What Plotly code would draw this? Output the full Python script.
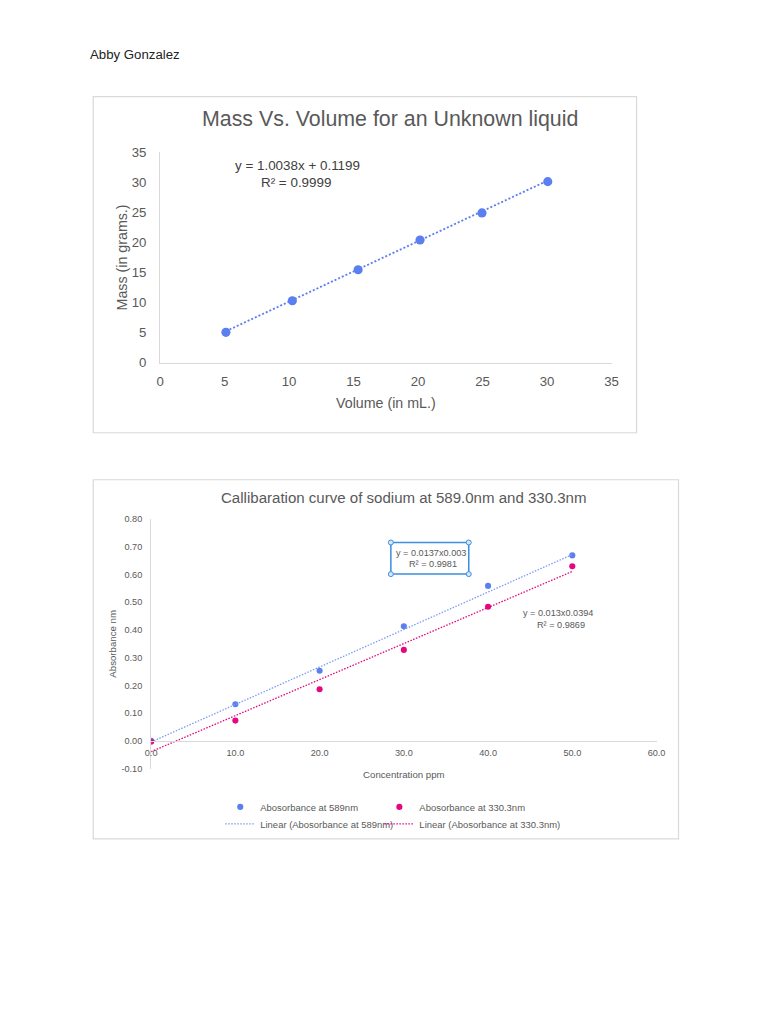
import plotly.graph_objects as go

# Mass vs volume (top chart)
volume = [5.1, 10.25, 15.35, 20.15, 24.95, 30.05]
mass = [5.05, 10.3, 15.45, 20.4, 24.9, 30.1]
mass_trend_x = [5.1, 30.05]
mass_trend_y = [5.24, 30.28]

# Calibration curve (bottom chart)
conc = [0, 10, 20, 30, 40, 50]
abs_589 = [0.0, 0.132, 0.253, 0.413, 0.559, 0.669]
abs_330 = [-0.003, 0.073, 0.186, 0.328, 0.484, 0.630]
trend_x = [0, 50]
trend_589 = [-0.004, 0.672]
trend_330 = [-0.039, 0.611]

abs_ticks = [-0.1, 0.0, 0.1, 0.2, 0.3, 0.4, 0.5, 0.6, 0.7, 0.8]
abs_labels = ["-0.10", "0.00", "0.10", "0.20", "0.30", "0.40", "0.50", "0.60", "0.70", "0.80"]

W, H = 768, 1024
FONT = "Liberation Sans, Arial, sans-serif"
GREY = "#595959"
BLUE = "#5b7ef0"
PINK = "#e5077f"

# the page gets shrunk a little when photographed, so undo that here
SX, OX = 0.9816, 5.7
SY, OY = 0.985, 6.4
K = 1 / 0.983


def px(x):
    return (x - OX) / SX / W


def py(y):
    return 1 - (y - OY) / SY / H


def fs(size):
    return size * K


fig = go.Figure()

# top chart
fig.add_trace(go.Scatter(
    x=mass_trend_x, y=mass_trend_y, mode="lines",
    line=dict(color=BLUE, width=fs(1.8), dash="2px,2px"),
    xaxis="x", yaxis="y", showlegend=False, hoverinfo="skip"))
fig.add_trace(go.Scatter(
    x=volume, y=mass, mode="markers",
    marker=dict(color=BLUE, size=fs(9)),
    xaxis="x", yaxis="y", showlegend=False))

# bottom chart
fig.add_trace(go.Scatter(
    x=conc, y=abs_589, mode="markers", name="Abosorbance at 589nm",
    marker=dict(color=BLUE, size=fs(6)),
    xaxis="x2", yaxis="y2", legend="legend"))
fig.add_trace(go.Scatter(
    x=conc, y=abs_330, mode="markers", name="Abosorbance at 330.3nm",
    marker=dict(color=PINK, size=fs(6)),
    xaxis="x2", yaxis="y2", legend="legend2"))
fig.add_trace(go.Scatter(
    x=trend_x, y=trend_589, mode="lines", name="Linear (Abosorbance at 589nm)",
    line=dict(color="#7f9cf5", width=fs(1.3), dash="1.5px,1.5px"),
    xaxis="x2", yaxis="y2", legend="legend3"))
fig.add_trace(go.Scatter(
    x=trend_x, y=trend_330, mode="lines", name="Linear (Abosorbance at 330.3nm)",
    line=dict(color=PINK, width=fs(1.3), dash="1.5px,1.5px"),
    xaxis="x2", yaxis="y2", legend="legend4"))

axis_common = dict(showgrid=False, zeroline=False, showline=True,
                   linecolor="#d9d9d9", linewidth=1, ticks="")


def tick_font(size):
    return dict(size=fs(size), color=GREY, family=FONT)


def legend_at(x, y):
    return dict(orientation="h", x=px(x), y=py(y), xanchor="left", yanchor="middle",
                font=dict(size=fs(9.3), color=GREY, family=FONT), bgcolor="rgba(0,0,0,0)")


fig.update_layout(
    width=W, height=H,
    margin=dict(l=0, r=0, t=0, b=0),
    paper_bgcolor="white", plot_bgcolor="white",
    font=dict(family=FONT, color=GREY),
    xaxis=dict(axis_common, domain=[px(160), px(612)], range=[0, 35], dtick=5,
               anchor="y", tickfont=tick_font(13), ticklabelstandoff=6,
               title=dict(text="Volume (in mL.)", font=tick_font(14), standoff=fs(10))),
    yaxis=dict(axis_common, domain=[py(362), py(151.5)], range=[0, 35], dtick=5,
               anchor="x", tickfont=tick_font(13), ticklabelstandoff=10,
               title=dict(text="Mass (in grams.)", font=tick_font(14), standoff=0)),
    xaxis2=dict(axis_common, domain=[px(151), px(657)], range=[0, 60], dtick=10,
                tickformat=".1f", anchor="free", position=py(740),
                tickfont=tick_font(9), ticklabelstandoff=3,
                title=dict(text="Concentration ppm", font=tick_font(9.5), standoff=fs(14))),
    yaxis2=dict(axis_common, domain=[py(767.7), py(518.3)], range=[-0.1, 0.8],
                tickmode="array", tickvals=abs_ticks, ticktext=abs_labels, anchor="x2",
                tickfont=tick_font(9), ticklabelstandoff=6,
                title=dict(text="Absorbance nm", font=tick_font(9.5), standoff=fs(3))),
    legend=legend_at(220.2, 806),
    legend2=legend_at(379.5, 806),
    legend3=legend_at(220.2, 823),
    legend4=legend_at(379.5, 823),
)

# chart frames
fig.add_shape(type="rect", xref="paper", yref="paper",
              x0=px(93), x1=px(637), y0=py(432), y1=py(96),
              line=dict(color="#d9d9d9", width=1.2))
fig.add_shape(type="rect", xref="paper", yref="paper",
              x0=px(93), x1=px(679), y0=py(838), y1=py(479),
              line=dict(color="#d9d9d9", width=1.2))

# selected equation box with its handles
EQ_BLUE = "#3b8ee0"
fig.add_shape(type="rect", xref="paper", yref="paper",
              x0=px(391), x1=px(469), y0=py(573.3), y1=py(541.7),
              line=dict(color=EQ_BLUE, width=1.5))
for cx, cy in [(391, 541.7), (469, 541.7), (391, 573.3), (469, 573.3)]:
    fig.add_shape(type="circle", xref="paper", yref="paper",
                  x0=px(cx - 2.5), x1=px(cx + 2.5), y0=py(cy + 2.5), y1=py(cy - 2.5),
                  line=dict(color=EQ_BLUE, width=1), fillcolor="#d6e8fa")

texts = [
    ("Abby Gonzalez", 88, 54, 13, "#222222", "left"),
    ("Mass Vs. Volume for an Unknown liquid", 390, 118.6, 21, GREY, "center"),
    ("y = 1.0038x + 0.1199", 298, 165, 13.2, "#404040", "center"),
    ("R² = 0.9999", 296, 182, 13.2, "#404040", "center"),
    ("Callibaration curve of sodium at 589.0nm and 330.3nm", 404, 497, 14.8, GREY, "center"),
    ("y = 0.0137x0.003", 431, 552.7, 9, GREY, "center"),
    ("R² = 0.9981", 433, 563.3, 9, GREY, "center"),
    ("y = 0.013x0.0394", 558, 611.7, 9, GREY, "center"),
    ("R² = 0.9869", 561, 624.3, 9, GREY, "center"),
]
for text, x, y, size, color, anchor in texts:
    fig.add_annotation(text=text, x=px(x), y=py(y), xref="paper", yref="paper",
                       xanchor=anchor, yanchor="middle", showarrow=False,
                       font=dict(size=fs(size), color=color, family=FONT))

fig.write_html("out.html", config={"displayModeBar": False},
               post_script="document.body.style.margin='0';document.body.style.overflow='hidden';")
